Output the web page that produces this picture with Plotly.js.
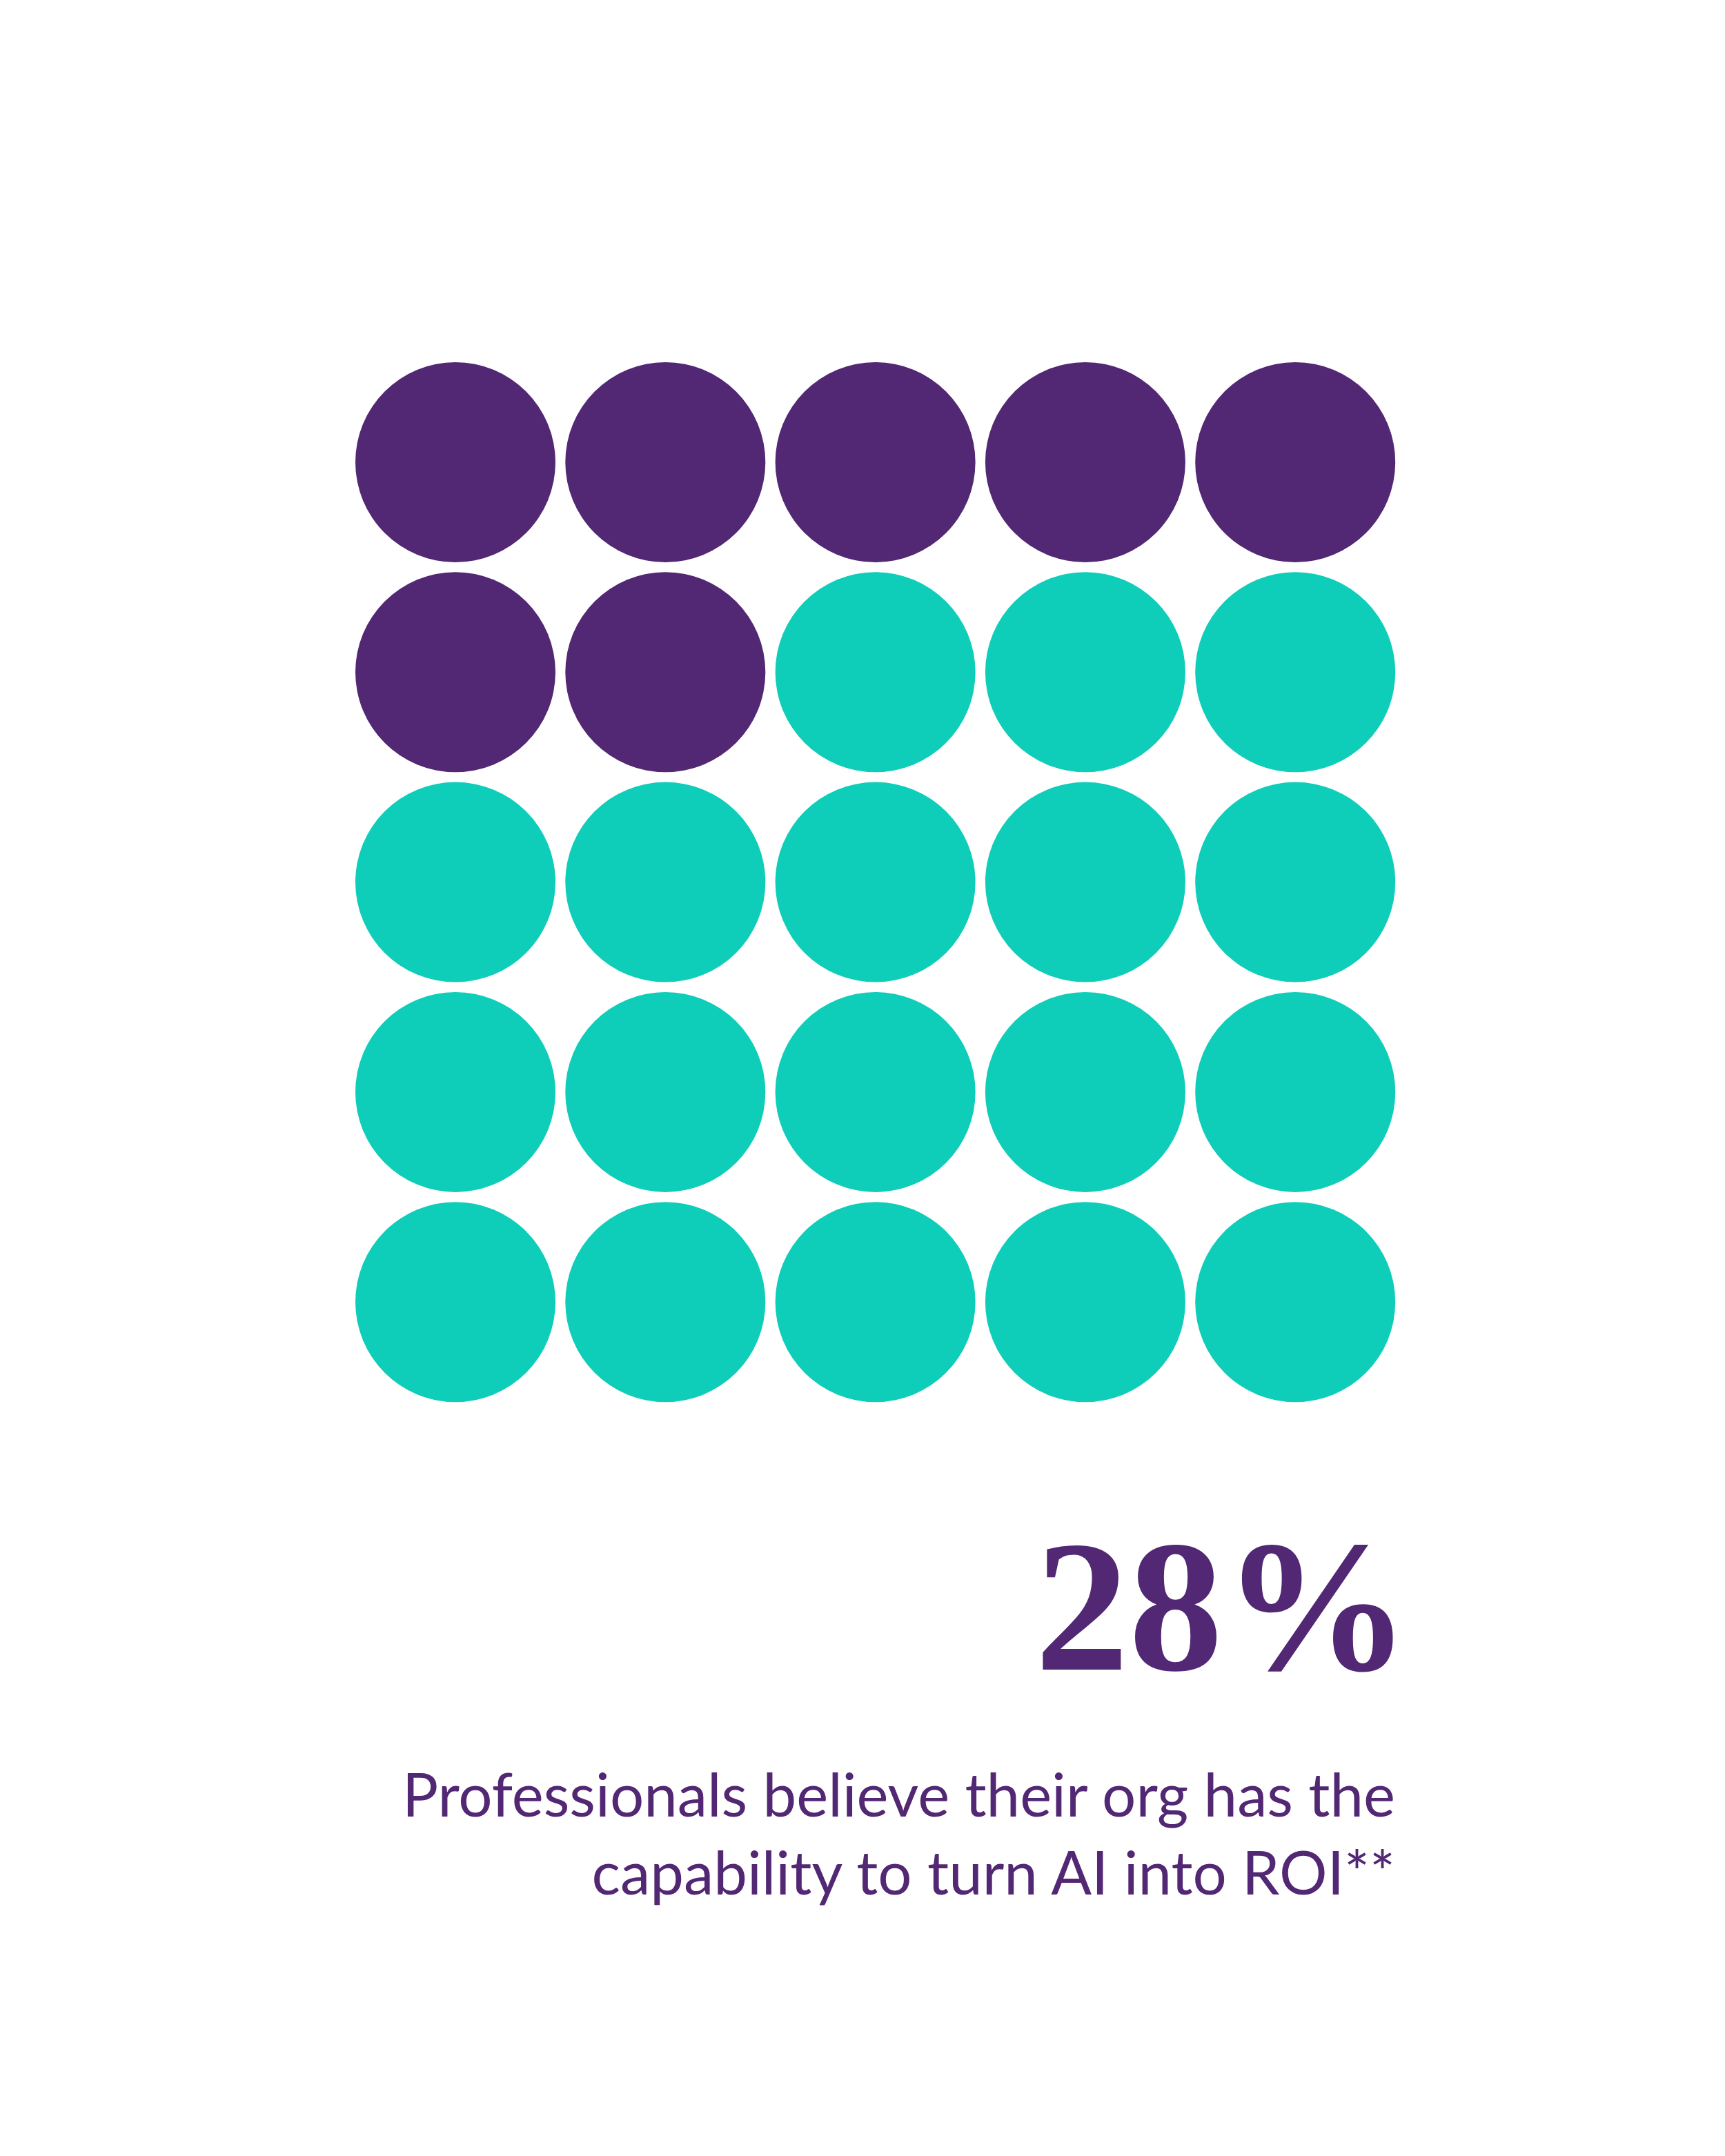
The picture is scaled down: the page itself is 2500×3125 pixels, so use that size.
<!DOCTYPE html>
<html>
<head>
<meta charset="utf-8">
<script src="https://cdn.plot.ly/plotly-3.0.1.min.js"></script>
<style>html,body{margin:0;padding:0;background:#fff;}#chart{width:2500px;height:3125px;}</style>
</head>
<body>
<div id="chart"></div>
<script>
// 5x5 grid: 7 of 25 dots (28%) highlighted
const purpleCols = [1, 2, 3, 4, 5, 1, 2];
const purpleRows = [1, 1, 1, 1, 1, 2, 2];
const tealCols = [3, 4, 5, 1, 2, 3, 4, 5, 1, 2, 3, 4, 5, 1, 2, 3, 4, 5];
const tealRows = [2, 2, 2, 3, 3, 3, 3, 3, 4, 4, 4, 4, 4, 5, 5, 5, 5, 5];
const statValue = "28%";
const statLabel = ["Professionals believe their org has the", "capability to turn AI into ROI**"];

const PURPLE = "#522773";
const TEAL = "#0ECDB9";

const W = 2500, H = 3125;
const step = 304.3;
const x0 = 660, y0 = 670;

const traces = [
  {type: "scatter", mode: "markers", x: purpleCols, y: purpleRows,
   marker: {size: 290, color: PURPLE, line: {width: 0}}, hoverinfo: "skip"},
  {type: "scatter", mode: "markers", x: tealCols, y: tealRows,
   marker: {size: 290, color: TEAL, line: {width: 0}}, hoverinfo: "skip"}
];

const layout = {
  width: W, height: H,
  margin: {l: 0, r: 0, t: 0, b: 0},
  paper_bgcolor: "#ffffff", plot_bgcolor: "#ffffff",
  showlegend: false,
  xaxis: {range: [1 - x0 / step, 1 + (W - x0) / step], visible: false, fixedrange: true},
  yaxis: {range: [1 + (H - y0) / step, 1 - y0 / step], visible: false, fixedrange: true},
  annotations: [
    {xref: "paper", yref: "paper", x: 2046 / W, y: 1 - 2328 / H,
     xanchor: "right", yanchor: "middle", showarrow: false,
     text: "<b>" + statValue + "</b>",
     font: {family: "Liberation Serif", size: 272, color: PURPLE}},
    {xref: "paper", yref: "paper", x: 2024 / W, y: 1 - 2656 / H,
     xanchor: "right", yanchor: "middle", align: "right", showarrow: false,
     text: statLabel.join("<br>"),
     font: {family: "Lato", size: 87, color: PURPLE}}
  ]
};

Plotly.newPlot("chart", traces, layout, {staticPlot: true, displayModeBar: false});
</script>
</body>
</html>
